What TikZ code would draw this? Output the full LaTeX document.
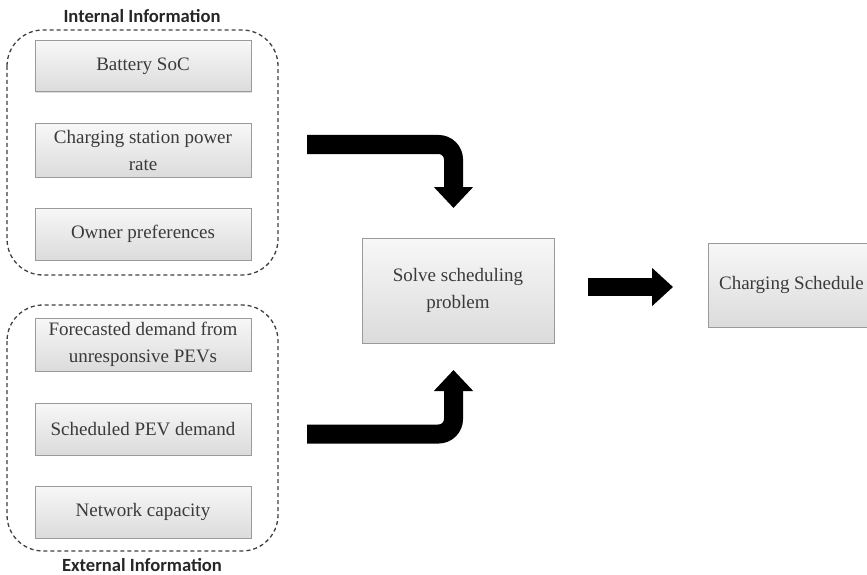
\documentclass[tikz,border=0pt]{standalone}
\usepackage{fontspec}
\setmainfont{Liberation Serif}
\newfontfamily\headfont{Carlito}
\usetikzlibrary{arrows.meta,shadows}
\definecolor{boxtext}{HTML}{3A3A3A}
\definecolor{boxedge}{HTML}{9A9A9A}
\definecolor{grouplines}{HTML}{404040}
\tikzset{
  infobox/.style={draw=boxedge, line width=1pt, top color=gray!6, bottom color=gray!28,
    drop shadow={shadow xshift=1.2pt, shadow yshift=-1.2pt, fill=gray!45, opacity=0.6},
    text=boxtext, align=center, inner sep=0pt,
    font=\fontsize{19}{27}\selectfont},
  groupbox/.style={draw=grouplines, line width=1.3pt, dash pattern=on 4pt off 3pt,
    rounded corners=36pt},
  grouplabel/.style={font=\headfont\bfseries\fontsize{18.6}{20}\selectfont, text=black!85,
    inner sep=0pt},
  bigarrow/.style={line width=19pt, rounded corners=15pt,
    -{Triangle[width=38pt,length=21pt]}},
  straightarrow/.style={line width=18pt, -{Triangle[width=37pt,length=21pt]}}
}
\begin{document}
\begin{tikzpicture}[x=1pt,y=-1pt]
\useasboundingbox (0,0) rectangle (867,575);

% information groups
\draw[groupbox] (7,30) rectangle (278,275);
\draw[groupbox] (7,305) rectangle (278,551);
\node[grouplabel] (intlabel) at (142,16) {Internal Information};
\node[grouplabel] (extlabel) at (142,565) {External Information};

% internal inputs
\node[infobox, minimum width=216pt, minimum height=51pt] (soc) at (143,66.5) {Battery SoC};
\node[infobox, minimum width=216pt, minimum height=53pt] (rate) at (143,150.5) {Charging station power\\rate};
\node[infobox, minimum width=216pt, minimum height=52pt] (pref) at (143,234) {Owner preferences};

% external inputs
\node[infobox, minimum width=216pt, minimum height=53pt] (fcast) at (143,344.5) {Forecasted demand from\\unresponsive PEVs};
\node[infobox, minimum width=216pt, minimum height=52pt] (sched) at (143,429) {Scheduled PEV demand};
\node[infobox, minimum width=216pt, minimum height=52pt] (cap) at (143,512) {Network capacity};

% solver and result
\node[infobox, minimum width=192pt, minimum height=105pt] (solve) at (458,290.5) {Solve scheduling\\problem};
\node[infobox, minimum width=167pt, minimum height=84pt] (result) at (791.5,285) {Charging Schedule};

% arrow end points
\coordinate (inTail) at (307,144.5);
\coordinate (inBend) at (453.5,144.5);
\coordinate (inTip) at (453.5,208);
\coordinate (exTail) at (307,434);
\coordinate (exBend) at (453.5,434);
\coordinate (exTip) at (453.5,370);
\coordinate (outTail) at (588,287);
\coordinate (outTip) at (673,287);

% arrows
\draw[bigarrow] (inTail) -- (inBend) -- (inTip);
\draw[bigarrow] (exTail) -- (exBend) -- (exTip);
\draw[straightarrow] (outTail) -- (outTip);
\end{tikzpicture}
\end{document}
